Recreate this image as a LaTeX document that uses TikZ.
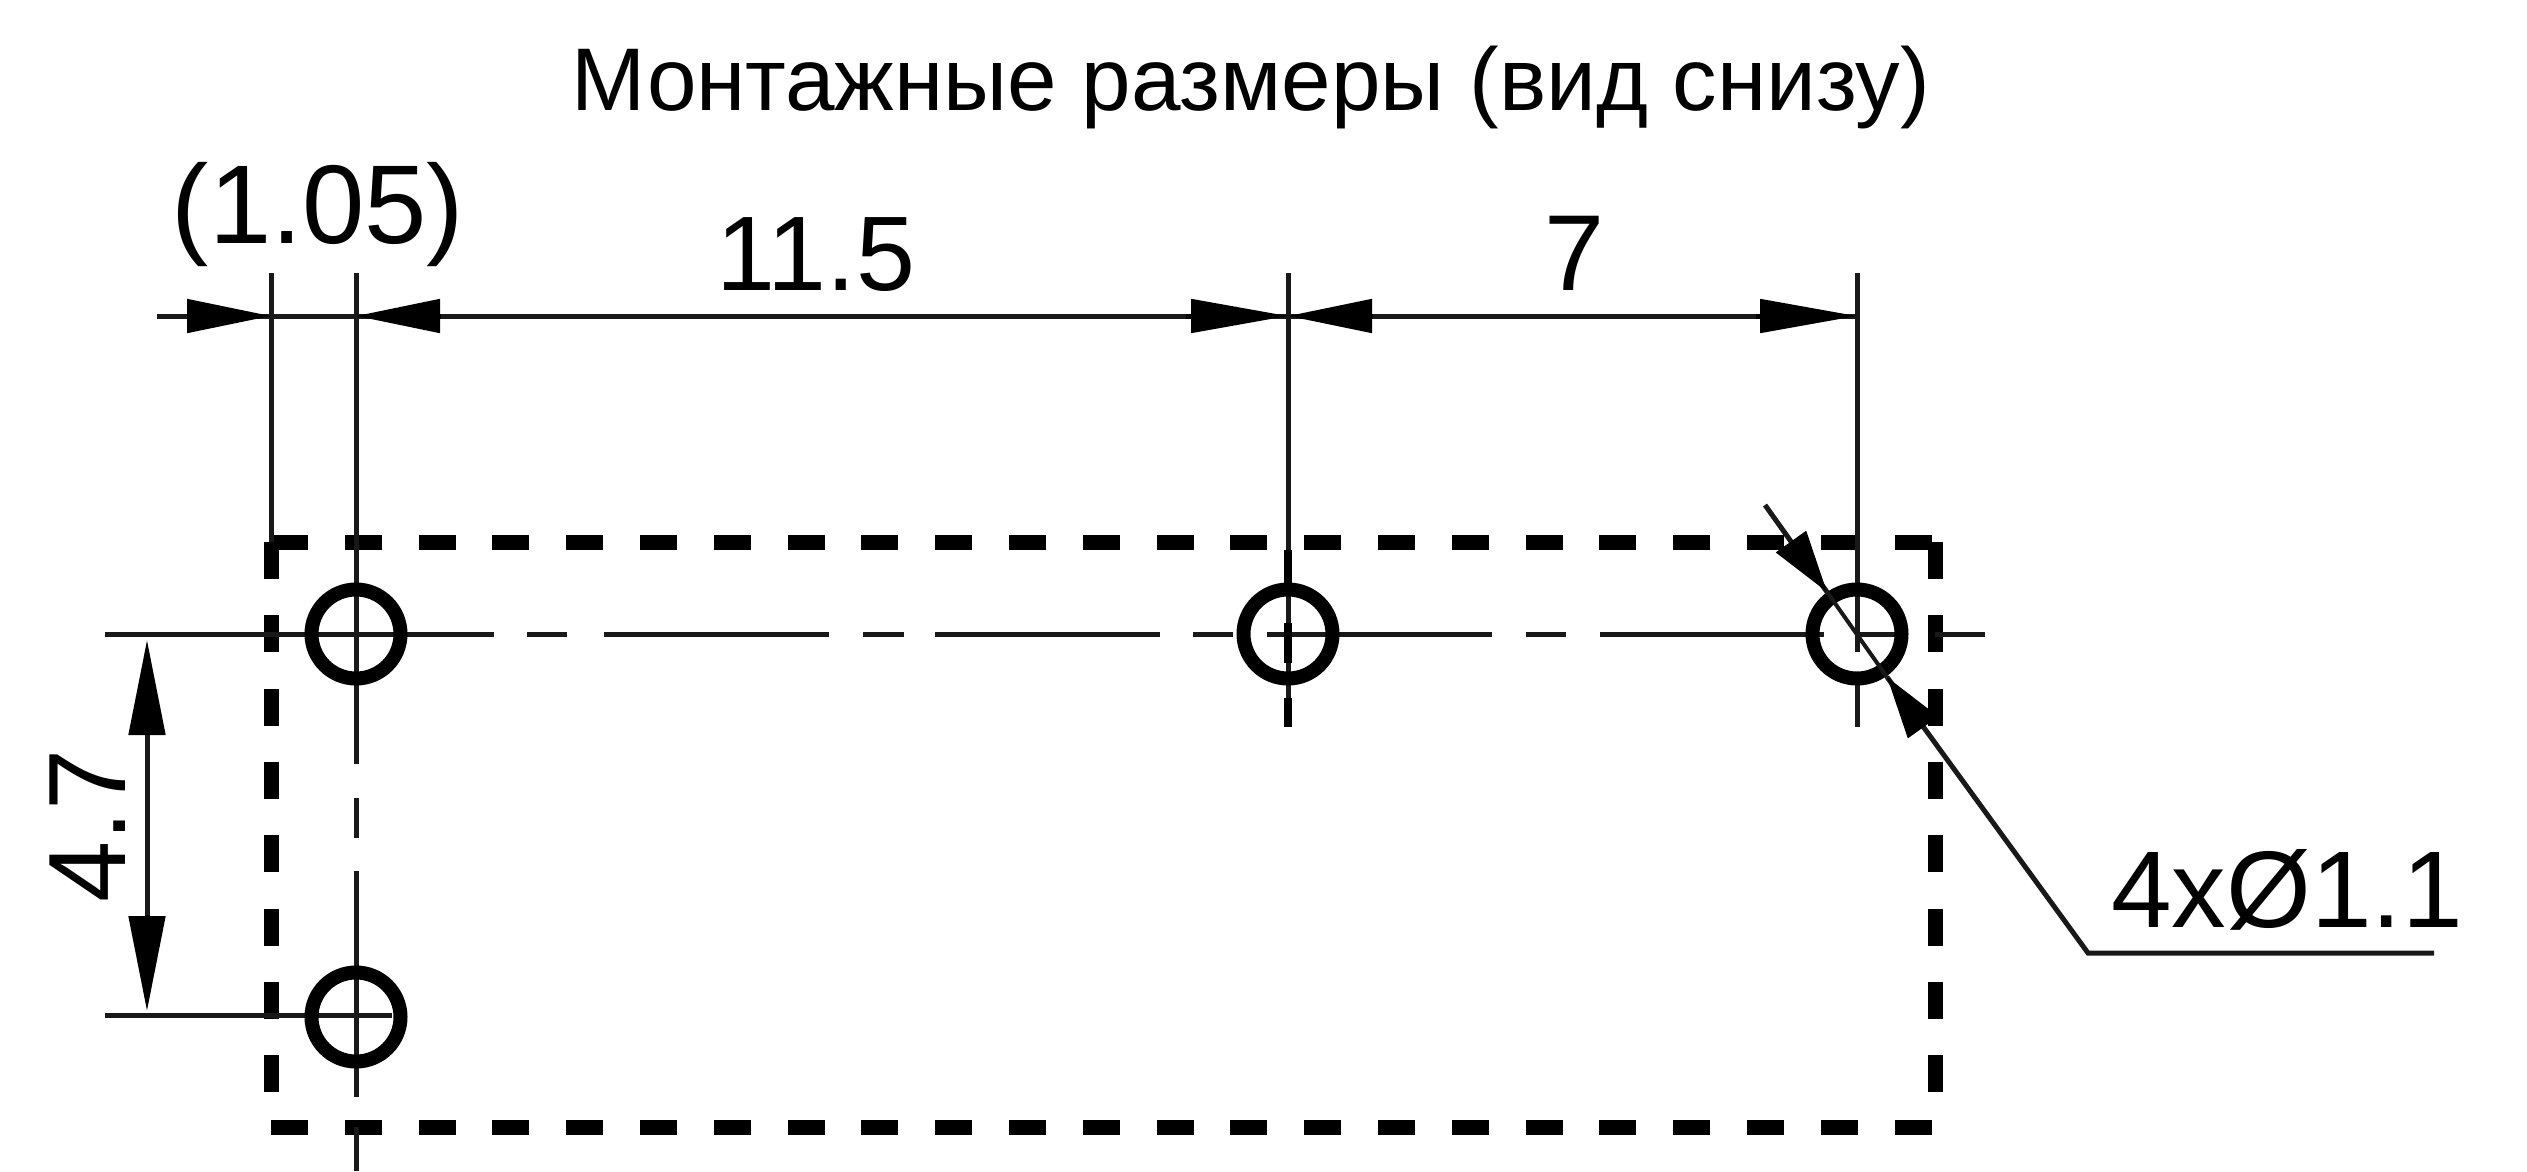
\documentclass[tikz,border=0pt]{standalone}
\usepackage{fontspec}
\setmainfont{Liberation Sans}
\usetikzlibrary{arrows.meta}
\tikzset{
  thinln/.style={line width=5pt,color=black!90},
  thickln/.style={line width=8.5pt,color=black},
  outlineH/.style={line width=15pt,dash pattern=on 37pt off 36.8pt},
  outlineV/.style={line width=15pt,dash pattern=on 37pt off 36.3pt},
  hole/.style={line width=14pt},
  dimtip/.style={-{Triangle[length=84pt,width=33pt]}},
  dimtipL/.style={-{Triangle[length=97pt,width=33pt]}},
  dimtipV/.style={-{Triangle[length=95pt,width=36pt]}},
  leadtip/.style={-{Triangle[length=62pt,width=36pt]}},
  dimtext/.style={inner sep=0pt,anchor=base,font=\fontsize{108}{120}\selectfont},
}
\begin{document}
\begin{tikzpicture}[x=1pt,y=-1pt]
\useasboundingbox (0,0) rectangle (2527,1171);
\coordinate (h1) at (356,634);
\coordinate (h2) at (1288,634);
\coordinate (h3) at (1857,634);
\coordinate (h4) at (356,1017);
% outline
\draw[outlineH] (271,542) -- (1935,542);
\draw[outlineH] (271,1127) -- (1935,1127);
\draw[outlineV] (271,542) -- (271,1127);
\draw[outlineV] (1935,542) -- (1935,1127);
% centre lines horizontal
\draw[thinln] (105,634) -- (494,634);
\foreach \a/\b in {527/567,604/829,863/904,935/1160,1193/1233,1267/1492,1526/1566,1600/1824,1857/1900,1935/1985}
  \draw[thinln] (\a,634) -- (\b,634);
\draw[thinln] (105,1015) -- (392,1015);
% centre lines vertical
\draw[thinln] (271,273) -- (271,542);
\draw[thinln] (356,273) -- (356,764);
\draw[thinln] (356,798) -- (356,838);
\draw[thinln] (356,871) -- (356,1097);
\draw[thinln] (356,1127) -- (356,1171);
\draw[thinln] (1288,273) -- (1288,727);
\draw[thinln] (1857,273) -- (1857,652);
\draw[thinln] (1857,674) -- (1857,727);
\foreach \a/\b in {550/585,623/663,698/727}
  \draw[thickln] (1288,\a) -- (1288,\b);
% holes
\foreach \h in {h1,h2,h3,h4} \draw[hole] (\h) circle (44.5);
% dimension line top
\coordinate (dL) at (157,316);
\coordinate (d1) at (271,316);
\coordinate (d2) at (356,316);
\coordinate (d3) at (1288,316);
\coordinate (d4) at (1857,316);
\draw[thinln] (dL) -- (d4);
\draw[dimtip,thinln,color=black] (187,316) -- (d1);
\draw[dimtip,thinln,color=black] (441,316) -- (d2);
\draw[dimtipL,thinln,color=black] (1186,316) -- (d3);
\draw[dimtip,thinln,color=black] (1373,316) -- (d3);
\draw[dimtipL,thinln,color=black] (1756,316) -- (d4);
% vertical dim
\coordinate (v1) at (147,640);
\coordinate (v2) at (147,1011);
\draw[dimtipV,thinln,color=black] (147,735) -- (v1);
\draw[dimtipV,thinln,color=black] (147,915) -- (v2);
\draw[thinln] (147,735) -- (147,915);
% leader
\coordinate (l0) at (1765,505);
\coordinate (la) at (1827,592);
\coordinate (lb) at (1887,677);
\coordinate (le) at (2088,953);
\coordinate (lf) at (2434,953);
\draw[thinln] (l0) -- (la) (lb) -- (le) -- (lf);
\draw[thinln,line width=4pt] (la) -- (lb);
\draw[leadtip,thinln,color=black] (1792,543) -- (la);
\draw[leadtip,thinln,color=black] (1922,726) -- (lb);
% text
\node[inner sep=0pt,anchor=base] (title) at (1251,110) {\fontsize{89}{100}\selectfont Монтажные размеры (вид снизу)};
\node[dimtext,font=\fontsize{112}{120}\selectfont] (t1) at (318,243) {(1.05)};
\node[dimtext,font=\fontsize{106}{120}\selectfont] (t2) at (816,290) {11.5};
\node[dimtext] (t3) at (1575,290) {7};
\node[dimtext,rotate=90,font=\fontsize{110}{120}\selectfont] (t4) at (125,826) {4.7};
\node[dimtext,font=\fontsize{109}{120}\selectfont] (t5) at (2287,927) {4xØ1.1};
\end{tikzpicture}
\end{document}
